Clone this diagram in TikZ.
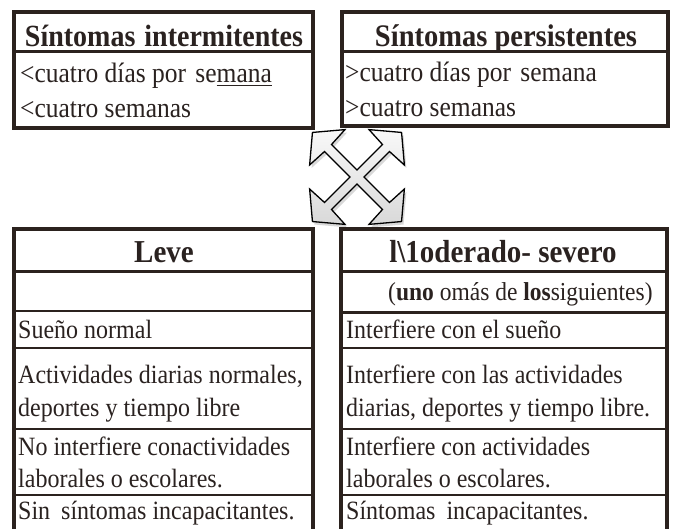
\documentclass[tikz,border=0pt]{standalone}
\usepackage{fontspec}
\usepackage{graphicx}
\setmainfont{Liberation Serif}
\usetikzlibrary{shadows}
\definecolor{ink}{HTML}{2B221E}
\definecolor{txt}{HTML}{2A2220}
\newcommand{\vst}[1]{\scalebox{1}[1.1]{#1}}
\tikzset{
  outerbox/.style={draw=ink, line width=3.5pt},
  sepline/.style={draw=ink, line width=2pt},
  headsep/.style={draw=ink, line width=3pt},
  headtxt/.style={inner sep=0pt, anchor=base, text=txt, font=\fontsize{29}{30}\selectfont\bfseries},
  bodytxt/.style={inner sep=0pt, anchor=base west, text=txt, font=\fontsize{24}{28}\selectfont},
  topbody/.style={bodytxt, font=\fontsize{25.5}{28}\selectfont},
  crossarrow/.style={draw=black, line width=1.3pt, line join=miter, top color=gray!5, bottom color=gray!30,
     drop shadow={opacity=0.3, shadow xshift=2pt, shadow yshift=-3pt}},
}
\begin{document}
\begin{tikzpicture}[x=1pt,y=-1pt]
\useasboundingbox (0,0) rectangle (673,529);
\fill[white] (0,0) rectangle (673,529);

% ---------- top left box ----------
\draw[outerbox] (14,12) rectangle (313,128);
\draw[headsep] (14,52) -- (313,52);
\node[headtxt, font=\fontsize{28}{30}\selectfont\bfseries] (h1) at (164,46.5) {\vst{Síntomas\hspace{2pt} intermitentes}};
\node[topbody] (t1a) at (20,83) {\vst{<cuatro días por\hspace{3pt} se\underline{mana}}};
\node[topbody] (t1b) at (20,118) {\vst{<cuatro semanas}};

% ---------- top right box ----------
\draw[outerbox] (342,12) rectangle (668,126);
\draw[headsep] (342,52) -- (668,52);
\node[headtxt, font=\fontsize{28.5}{30}\selectfont\bfseries] (h2) at (506,46.5) {\vst{Síntomas persistentes}};
\node[topbody] (t2a) at (345,82) {\vst{>cuatro días por\hspace{3pt} semana}};
\node[topbody] (t2b) at (345,117) {\vst{>cuatro semanas}};

% ---------- cross arrow ----------
\begin{scope}[shift={(357,177)}, rotate=45]
\path[crossarrow] (5,-5) -- (41,-5) -- (42,-25) -- (63,0) -- (42,25) -- (41,5) -- (5,5)
  -- (5,41) -- (25,42) -- (0,63) -- (-25,42) -- (-5,41) -- (-5,5)
  -- (-41,5) -- (-42,25) -- (-63,0) -- (-42,-25) -- (-41,-5) -- (-5,-5)
  -- (-5,-41) -- (-25,-42) -- (0,-63) -- (25,-42) -- (5,-41) -- cycle;
\end{scope}

% ---------- bottom left box ----------
\draw[outerbox] (14,535) -- (14,229) -- (313,229) -- (313,535);
\draw[headsep] (14,272) -- (313,272);
\draw[sepline] (14,311) -- (313,311);
\draw[sepline] (14,348) -- (313,348);
\draw[sepline] (14,429) -- (313,429);
\draw[sepline] (14,495) -- (313,495);
\node[headtxt] (h3) at (164,263) {\vst{Leve}};
\node[bodytxt] (l1) at (18,339) {\vst{Sueño normal}};
\node[bodytxt] (l2) at (18,384) {\vst{Actividades diarias normales,}};
\node[bodytxt] (l3) at (18,417) {\vst{deportes y tiempo libre}};
\node[bodytxt] (l4) at (18,456) {\vst{No interfiere conactividades}};
\node[bodytxt] (l5) at (18,488) {\vst{laborales o escolares.}};
\node[bodytxt] (l6) at (18,520) {\vst{Sin\hspace{5pt} síntomas incapacitantes.}};

% ---------- bottom right box ----------
\draw[outerbox] (341,535) -- (341,229) -- (667,229) -- (667,535);
\draw[headsep] (341,272) -- (667,272);
\draw[headsep] (341,313) -- (667,313);
\draw[sepline] (341,348) -- (667,348);
\draw[sepline] (341,429) -- (667,429);
\draw[sepline] (341,495) -- (667,495);
\node[headtxt] (h4) at (503,263) {\vst{l\textbackslash1oderado- severo}};
\node[bodytxt, font=\fontsize{23.5}{28}\selectfont] (r0) at (388,301) {\vst{(\textbf{uno} omás de \textbf{los}siguientes)}};
\node[bodytxt] (r1) at (346,339) {\vst{Interfiere con el sueño}};
\node[bodytxt] (r2) at (346,384) {\vst{Interfiere con las actividades}};
\node[bodytxt] (r3) at (346,417) {\vst{diarias, deportes y tiempo libre.}};
\node[bodytxt] (r4) at (346,456) {\vst{Interfiere con actividades}};
\node[bodytxt] (r5) at (346,488) {\vst{laborales o escolares.}};
\node[bodytxt] (r6) at (346,520) {\vst{Síntomas\hspace{5pt} incapacitantes.}};
\end{tikzpicture}
\end{document}
